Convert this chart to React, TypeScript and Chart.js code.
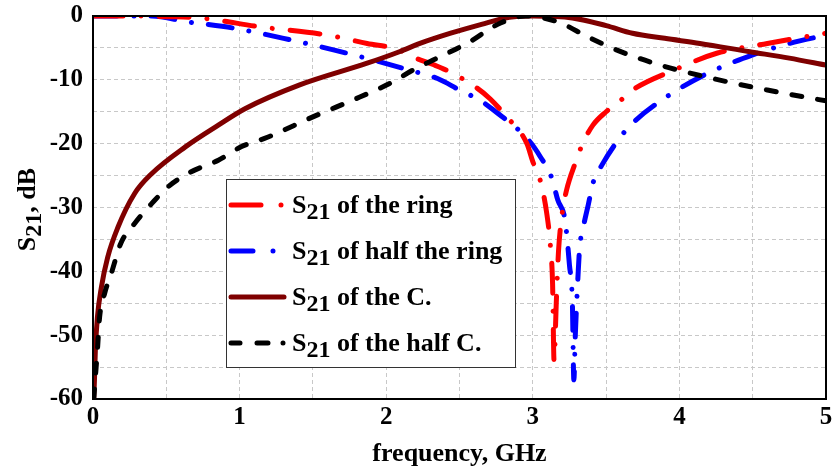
import React, { useEffect, useRef } from "react";
import { Chart, registerables } from "chart.js";

Chart.register(...registerables);

const SERIF = '"Liberation Serif", "Times New Roman", Times, serif';

// S21 of the ring (red dash-dot)
const fRing = [0, 0.3, 0.5, 0.73, 1.14, 1.6, 1.87, 2.09, 2.18, 2.32, 2.43, 2.62, 2.71, 2.81, 2.96, 3.0, 3.05, 3.095, 3.12, 3.135, 3.145, 3.16, 3.175, 3.2, 3.23, 3.29, 3.34, 3.41, 3.5, 3.6, 3.68, 3.96, 4.26, 4.6, 5.0];
const sRing = [0, 0, -0.1, -0.3, -1.7, -3.0, -4.3, -5.3, -6.4, -7.6, -8.7, -11.3, -13.0, -15.5, -20.0, -22.8, -25.7, -30.9, -36, -42, -54, -45, -37, -31, -27.3, -23, -20, -17.1, -15, -13.2, -11.6, -8.5, -5.8, -4.3, -2.7];

// S21 of half the ring (blue dash-dot)
const fHalfRing = [0, 0.4, 0.64, 0.96, 1.3, 1.64, 1.91, 2.16, 2.35, 2.5, 2.64, 2.73, 2.97, 3.05, 3.13, 3.17, 3.22, 3.25, 3.27, 3.28, 3.29, 3.31, 3.32, 3.345, 3.38, 3.41, 3.47, 3.6, 3.68, 3.91, 4.19, 4.5, 4.75, 5.0];
const sHalfRing = [0, 0, -0.9, -1.9, -3.5, -5.3, -6.9, -8.5, -9.8, -11.6, -13.2, -14.7, -19.4, -22, -25.4, -28.8, -32, -39, -45, -57, -50, -40, -36.2, -33, -29.4, -26.2, -23.4, -18.9, -16.8, -12.7, -9, -6.1, -4.3, -3.0];

// S21 of the C. (maroon solid)
const fC = [0.005, 0.01, 0.016, 0.03, 0.057, 0.1, 0.17, 0.284, 0.4, 0.63, 0.855, 1.04, 1.41, 1.87, 2.09, 2.23, 2.44, 2.65, 2.84, 3.0, 3.27, 3.5, 3.68, 3.9, 4.14, 4.48, 4.75, 5.0];
const sC = [-60, -57, -52.4, -47.2, -42.5, -37.8, -33.1, -27.8, -24.7, -20.5, -17.1, -14.5, -10.8, -7.4, -5.6, -4.3, -2.7, -1.3, -0.2, 0, -0.3, -1.5, -2.7, -3.5, -4.3, -5.6, -6.6, -7.7];

// S21 of the half C. (black dashed)
const fHalfC = [0.005, 0.016, 0.03, 0.045, 0.08, 0.125, 0.19, 0.284, 0.4, 0.51, 0.67, 0.855, 1.01, 1.19, 1.5, 1.82, 2.03, 2.18, 2.32, 2.55, 2.78, 2.95, 3.05, 3.19, 3.37, 3.57, 3.87, 4.23, 4.6, 5.0];
const sHalfC = [-60, -56.6, -52.4, -47.2, -43.4, -40.3, -35.6, -32.5, -29.4, -26.8, -24.4, -22.6, -20.5, -19, -15.8, -12.7, -10.5, -8.5, -6.9, -4.3, -1.1, 0, -0.2, -1.1, -3.2, -5.3, -7.7, -9.8, -11.6, -13.3];

const xTickValues = [0, 1, 2, 3, 4, 5];
const yTickValues = [0, -10, -20, -30, -40, -50, -60];
const xTitle = "frequency, GHz";
const yTitleMain = "S";
const yTitleSub = "21";
const yTitleRest = ", dB";
const legendMain = "S";
const legendSub = "21";
const legendTexts = [" of the ring", " of half the ring", " of the C.", " of the half C."];

const RED = "#ff0000";
const BLUE = "#0000ff";
const MAROON = "#7f0000";
const BLACK = "#000000";

const legendStyles = [
  { color: RED, dash: [30, 20, 0.01, 100] },
  { color: BLUE, dash: [22, 20, 0.01, 100] },
  { color: MAROON, dash: [] as number[] },
  { color: BLACK, dash: [9, 17, 11, 15, 0.01, 100] },
];

function pts(f: number[], s: number[]) {
  return f.map((x, i) => ({ x, y: s[i] }));
}

const decorPlugin = {
  id: "decor",
  afterDatasetsDraw(chart: any) {
    const { ctx, chartArea } = chart;
    const { left, top, right, bottom } = chartArea;
    ctx.save();
    // frame
    ctx.strokeStyle = "#000";
    ctx.lineWidth = 2;
    ctx.setLineDash([]);
    ctx.strokeRect(left, top, right - left, bottom - top);

    // legend
    const bx = left + 133;
    const by = top + 163;
    const bw = 289;
    const bh = 188;
    ctx.fillStyle = "#fff";
    ctx.fillRect(bx, by, bw, bh);
    ctx.strokeStyle = "#333";
    ctx.lineWidth = 1;
    ctx.strokeRect(bx + 0.5, by + 0.5, bw, bh);
    legendTexts.forEach((txt, i) => {
      const cy = by + 26 + i * 46;
      const st = legendStyles[i];
      ctx.save();
      ctx.strokeStyle = st.color;
      ctx.lineWidth = 5;
      ctx.lineCap = "round";
      ctx.setLineDash(st.dash);
      ctx.beginPath();
      ctx.moveTo(bx + 5, cy);
      ctx.lineTo(bx + 58, cy);
      ctx.stroke();
      ctx.restore();
      let tx = bx + 66;
      ctx.fillStyle = "#000";
      ctx.textAlign = "left";
      ctx.textBaseline = "alphabetic";
      ctx.font = `bold 26px ${SERIF}`;
      ctx.fillText(legendMain, tx, cy + 8);
      tx += ctx.measureText(legendMain).width;
      ctx.font = `bold 24px ${SERIF}`;
      ctx.fillText(legendSub, tx, cy + 14);
      tx += ctx.measureText(legendSub).width;
      ctx.font = `bold 26px ${SERIF}`;
      ctx.fillText(txt, tx, cy + 8);
    });
    ctx.restore();
  },
  afterDraw(chart: any) {
    const { ctx, chartArea } = chart;
    const midY = (chartArea.top + chartArea.bottom) / 2 + 2;
    ctx.save();
    ctx.translate(35, midY);
    ctx.rotate(-Math.PI / 2);
    ctx.fillStyle = "#000";
    ctx.textAlign = "left";
    ctx.textBaseline = "alphabetic";
    ctx.font = `bold 26px ${SERIF}`;
    const w1 = ctx.measureText(yTitleMain).width;
    const w3 = ctx.measureText(yTitleRest).width;
    ctx.font = `bold 24px ${SERIF}`;
    const w2 = ctx.measureText(yTitleSub).width;
    let x = -(w1 + w2 + w3) / 2;
    ctx.font = `bold 26px ${SERIF}`;
    ctx.fillText(yTitleMain, x, 0);
    x += w1;
    ctx.font = `bold 24px ${SERIF}`;
    ctx.fillText(yTitleSub, x, 6);
    x += w2;
    ctx.font = `bold 26px ${SERIF}`;
    ctx.fillText(yTitleRest, x, 0);
    ctx.restore();
  },
};

export default function App() {
  const canvasRef = useRef<HTMLCanvasElement | null>(null);

  useEffect(() => {
    const canvas = canvasRef.current;
    if (!canvas) return;
    const common = {
      pointRadius: 0,
      borderWidth: 5,
      borderCapStyle: "round" as const,
      cubicInterpolationMode: "monotone" as const,
      fill: false,
    };
    const chart = new Chart(canvas, {
      type: "line",
      data: {
        datasets: [
          { ...common, label: "half C", data: pts(fHalfC, sHalfC), borderColor: BLACK, borderDash: [10, 16] },
          { ...common, label: "C", data: pts(fC, sC), borderColor: MAROON },
          { ...common, label: "ring", data: pts(fRing, sRing), borderColor: RED, borderDash: [30, 18, 0.01, 18] },
          { ...common, label: "half ring", data: pts(fHalfRing, sHalfRing), borderColor: BLUE, borderDash: [24, 17, 0.01, 17] },
        ],
      },
      options: {
        responsive: false,
        animation: false,
        layout: { padding: { left: 0, top: 16, right: 12, bottom: 0 } },
        plugins: {
          legend: { display: false },
          tooltip: { enabled: false },
        },
        scales: {
          x: {
            type: "linear",
            min: 0,
            max: 5,
            afterFit: (scale: any) => {
              scale.height = 73;
              scale.paddingLeft = 0;
              scale.paddingRight = 0;
            },
            ticks: {
              stepSize: 0.5,
              autoSkip: false,
              maxRotation: 0,
              padding: 4,
              color: "#000",
              font: { family: SERIF, size: 25, weight: "bold" },
              callback: (v: any) => (xTickValues.includes(Number(v)) ? String(v) : ""),
            },
            grid: { color: "#c8c8c8", lineWidth: 1, drawTicks: false },
            border: { display: false, dash: [4, 3] },
            title: {
              display: true,
              text: xTitle,
              color: "#000",
              font: { family: SERIF, size: 26, weight: "bold" },
              padding: { top: 0, bottom: 2 },
            },
          },
          y: {
            type: "linear",
            min: -60,
            max: 0,
            afterFit: (scale: any) => {
              scale.width = 93;
              scale.paddingTop = 0;
              scale.paddingBottom = 0;
            },
            ticks: {
              stepSize: 5,
              autoSkip: false,
              padding: 10,
              color: "#000",
              font: { family: SERIF, size: 25, weight: "bold" },
              callback: (v: any) => (yTickValues.includes(Number(v)) ? String(v) : ""),
            },
            grid: { color: "#c8c8c8", lineWidth: 1, drawTicks: false },
            border: { display: false, dash: [4, 3] },
          },
        },
      },
      plugins: [decorPlugin],
    });
    return () => chart.destroy();
  }, []);

  return (
    <div style={{ position: "absolute", left: 0, top: 0, width: 838, height: 472, background: "#fff" }}>
      <canvas ref={canvasRef} width={838} height={472} style={{ display: "block" }} />
    </div>
  );
}
